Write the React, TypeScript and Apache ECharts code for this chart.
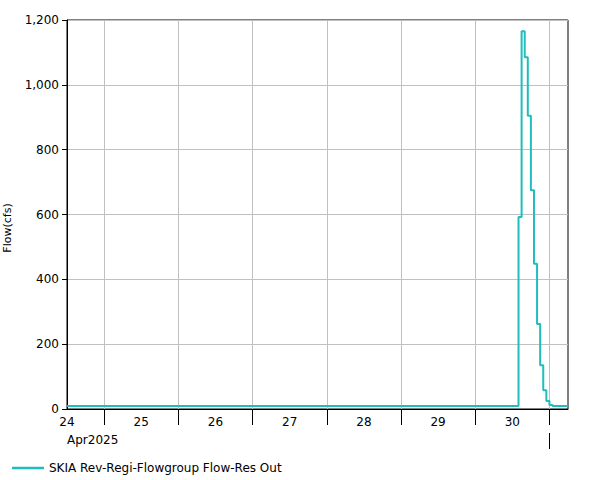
import React, { useEffect, useRef } from "react";
import * as echarts from "echarts";

// Axis range (hourly data, HEC-DSSVue style)
const axisStart = "2025-04-24 12:00";
const axisEnd = "2025-05-01 06:00";
// six-hour display slots covering the axis range
const slotHours = 6;
// day labels shown at noon of each day (first at axis start)
const dayLabels = ["24", "25", "26", "27", "28", "29", "30"];
const monthLabel = "Apr2025";
const seriesName = "SKIA Rev-Regi-Flowgroup Flow-Res Out";
const yAxisTitle = "Flow(cfs)";

// Flow change points (value holds until the next time)
const flowTimes = [
  "2025-04-24 12:00",
  "2025-04-30 14:00",
  "2025-04-30 15:00",
  "2025-04-30 16:00",
  "2025-04-30 17:00",
  "2025-04-30 18:00",
  "2025-04-30 19:00",
  "2025-04-30 20:00",
  "2025-04-30 21:00",
  "2025-04-30 22:00",
  "2025-04-30 23:00",
  "2025-05-01 00:00",
  "2025-05-01 01:00",
  "2025-05-01 06:00",
];
const flowValues = [9, 592, 1165, 1085, 905, 675, 448, 262, 135, 58, 25, 12, 9, 9];

const yTicks = [0, 200, 400, 600, 800, 1000, 1200];

function toMs(s: string): number {
  const [d, t] = s.split(" ");
  const [y, m, dd] = d.split("-").map(Number);
  const [hh, mm] = t.split(":").map(Number);
  return Date.UTC(y, m - 1, dd, hh, mm);
}

const FONT = "DejaVu Sans";

export default function App() {
  const ref = useRef<HTMLDivElement>(null);
  useEffect(() => {
    if (!ref.current) return;
    const chart = echarts.init(ref.current, undefined, { renderer: "svg" });
    const startMs = toMs(axisStart);
    const endMs = toMs(axisEnd);
    const nSlots = Math.round((endMs - startMs) / (slotHours * 3600e3)) + 1;
    const slots: string[] = [];
    for (let i = 0; i < nSlots; i++) slots.push(String(startMs + i * slotHours * 3600e3));
    const hourOf = (i: number) => new Date(startMs + i * slotHours * 3600e3).getUTCHours();
    const dayOf = (i: number) => new Date(startMs + i * slotHours * 3600e3).getUTCDate();
    const monthOf = (i: number) => new Date(startMs + i * slotHours * 3600e3).getUTCMonth();

    const dayLabelFor = (i: number): string => {
      if (i === 0) return dayLabels[0];
      if (hourOf(i) === 12) {
        const s = String(dayOf(i));
        return dayLabels.includes(s) ? s : "";
      }
      return "";
    };

    const data = flowTimes.map((t, i) => [toMs(t), flowValues[i]]);

    chart.setOption({
      animation: false,
      textStyle: { fontFamily: FONT },
      grid: {
        left: 67,
        right: 33,
        top: 20,
        bottom: 71,
        show: true,
        borderColor: "#000",
        borderWidth: 1,
        backgroundColor: "transparent",
      },
      graphic: [
        {
          type: "text",
          x: 7.5,
          y: 228,
          rotation: Math.PI / 2,
          style: {
            text: yAxisTitle,
            fontFamily: FONT,
            fontSize: 11,
            fill: "#000",
            align: "center",
            verticalAlign: "middle",
          },
        },
      ],
      legend: {
        data: [seriesName],
        left: 7,
        top: 457,
        icon: "rect",
        itemWidth: 32,
        itemHeight: 2.5,
        itemGap: 10,
        textStyle: { fontFamily: FONT, fontSize: 12, color: "#000" },
      },
      xAxis: [
        {
          type: "time",
          min: startMs,
          max: endMs,
          show: false,
        },
        {
          type: "category",
          data: slots,
          boundaryGap: false,
          position: "bottom",
          axisLine: { show: true, lineStyle: { color: "#000", width: 1 } },
          axisTick: {
            show: true,
            length: 16,
            interval: (i: number) => hourOf(i) === 0,
            lineStyle: { color: "#000" },
          },
          splitLine: {
            show: true,
            interval: (i: number) => hourOf(i) === 0,
            lineStyle: { color: "#c0c0c0", width: 1 },
          },
          axisLabel: {
            show: true,
            interval: (i: number) => dayLabelFor(i) !== "",
            formatter: (_v: string, i: number) => dayLabelFor(i),
            margin: 7,
            fontFamily: FONT,
            fontSize: 12,
            color: "#000",
          },
        },
        {
          type: "category",
          data: slots,
          boundaryGap: false,
          position: "bottom",
          offset: 24,
          axisLine: { show: false },
          axisTick: {
            show: true,
            length: 16,
            interval: (i: number) => i > 0 && hourOf(i) === 0 && monthOf(i) !== monthOf(i - 1),
            lineStyle: { color: "#000" },
          },
          splitLine: { show: false },
          axisLabel: {
            show: true,
            interval: (i: number) => i === 0,
            formatter: (_v: string, i: number) => (i === 0 ? monthLabel : ""),
            align: "left",
            margin: 1,
            fontFamily: FONT,
            fontSize: 12,
            color: "#000",
          },
        },
      ],
      yAxis: {
        type: "value",
        min: yTicks[0],
        max: yTicks[yTicks.length - 1],
        interval: yTicks[1] - yTicks[0],
        axisLine: { show: true, lineStyle: { color: "#000" } },
        axisTick: { show: true, length: 5, lineStyle: { color: "#000" } },
        splitLine: { show: true, lineStyle: { color: "#c0c0c0", width: 1 } },
        axisLabel: {
          margin: 8,
          fontFamily: FONT,
          fontSize: 12,
          color: "#000",
          formatter: (v: number) => v.toLocaleString("en-US"),
        },
      },
      series: [
        {
          name: seriesName,
          type: "line",
          xAxisIndex: 0,
          yAxisIndex: 0,
          step: "end",
          showSymbol: false,
          symbol: "none",
          color: "#20bdbd",
          lineStyle: { color: "#20bdbd", width: 2 },
          data,
        },
      ],
    });
    return () => chart.dispose();
  }, []);
  return (
    <div
      ref={ref}
      style={{ position: "fixed", left: 0, top: 0, width: 601, height: 480, background: "#fff" }}
    />
  );
}
